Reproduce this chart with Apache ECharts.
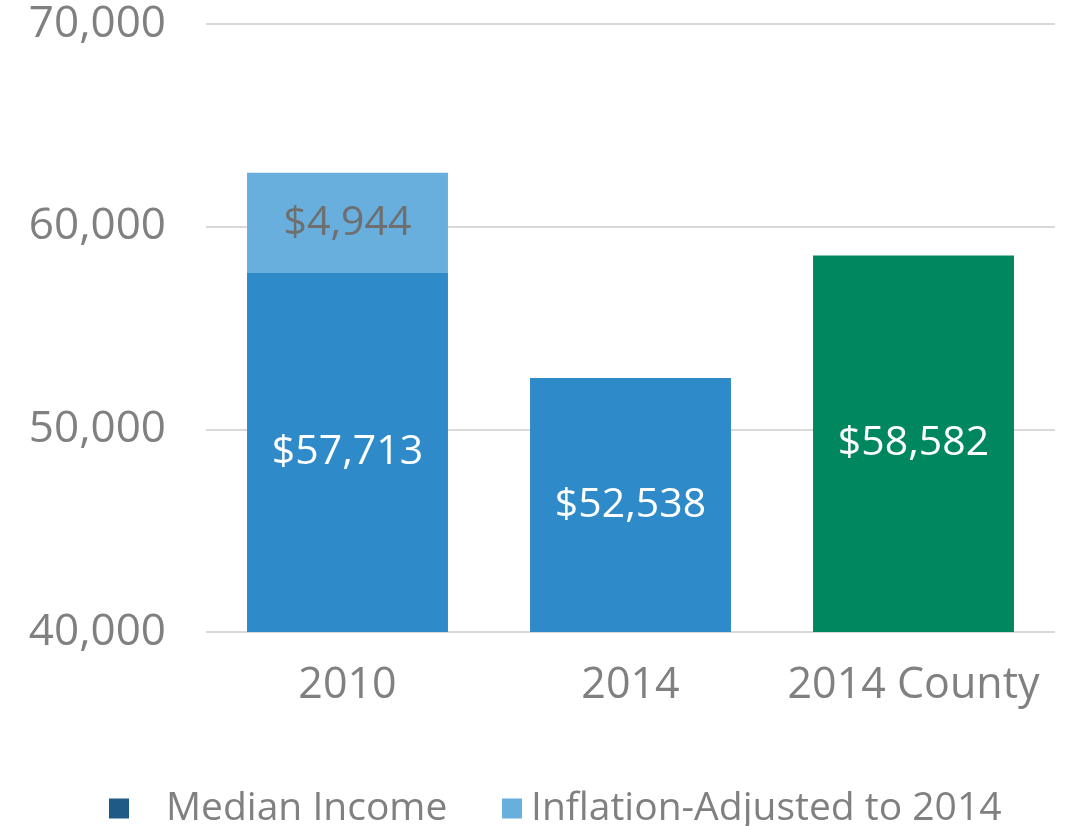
<!DOCTYPE html>
<html>
<head>
<meta charset="utf-8">
<script src="https://cdn.jsdelivr.net/npm/echarts@6/dist/echarts.min.js"></script>
<style>
  html, body { margin: 0; padding: 0; background: #fff; }
  #chart { width: 1076px; height: 826px; }
</style>
</head>
<body>
<div id="chart"></div>
<script>
const categories = ['2010', '2014', '2014 County'];
const medianIncome = [57713, 52538, 58582];
const inflationAdjusted = [4944, null, null];
const barColors = ['#2e8ac8', '#2e8ac8', '#00875f'];

const FONT = '"Open Sans", sans-serif';
const money = (v) => '$' + Number(v).toLocaleString('en-US');

const chart = echarts.init(document.getElementById('chart'));
const option = {
  animation: false,
  textStyle: { fontFamily: FONT },
  grid: { left: 206, right: 21, top: 24, bottom: 194 },
  legend: [
    {
      data: ['Median Income'],
      left: 104,
      top: 784,
      itemWidth: 20,
      itemHeight: 20,
      icon: 'rect',
      textStyle: { color: '#808080', fontSize: 39, fontFamily: FONT, padding: [0, 0, 0, 32] },
    },
    {
      data: ['Inflation-Adjusted to 2014'],
      left: 497,
      top: 784,
      itemWidth: 20,
      itemHeight: 20,
      icon: 'rect',
      textStyle: { color: '#808080', fontSize: 39, fontFamily: FONT, padding: [0, 0, 0, 4] },
    },
  ],
  xAxis: {
    type: 'category',
    data: categories,
    axisLine: { show: false },
    axisTick: { show: false },
    axisLabel: { color: '#808080', fontSize: 43, margin: 32, interval: 0, fontFamily: FONT },
  },
  yAxis: {
    type: 'value',
    min: 40000,
    max: 70000,
    interval: 10000,
    axisLine: { show: false },
    axisTick: { show: false },
    splitLine: { lineStyle: { color: '#d9d9d9', width: 2 } },
    axisLabel: {
      color: '#808080',
      fontSize: 44,
      margin: 40,
      fontFamily: FONT,
      formatter: (v) => Number(v).toLocaleString('en-US'),
    },
  },
  series: [
    {
      name: 'Median Income',
      type: 'bar',
      stack: 'income',
      barCategoryGap: '29%',
      itemStyle: { color: '#1f5a87' },
      data: medianIncome.map((v, i) => ({ value: v, itemStyle: { color: barColors[i] } })),
      label: {
        show: true,
        position: 'inside',
        color: '#ffffff',
        fontSize: 41,
        fontFamily: FONT,
        formatter: (p) => money(p.value),
      },
    },
    {
      name: 'Inflation-Adjusted to 2014',
      type: 'bar',
      stack: 'income',
      itemStyle: { color: '#69afdd' },
      data: inflationAdjusted,
      label: {
        show: true,
        position: 'inside',
        color: '#6f6f6f',
        fontSize: 41,
        fontFamily: FONT,
        formatter: (p) => (p.value == null ? '' : money(p.value)),
      },
    },
  ],
};
chart.setOption(option);
</script>
</body>
</html>
